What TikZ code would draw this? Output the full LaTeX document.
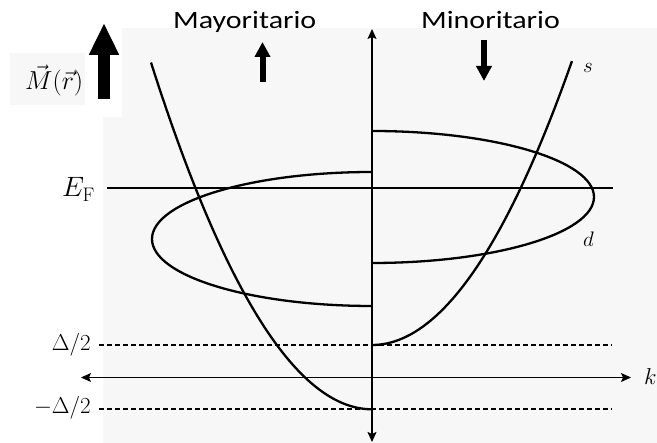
\RequirePackage{fix-cm}
\documentclass[tikz,border=0pt]{standalone}
\usepackage{fontspec}
\usepackage{amsmath,amssymb}
\usepackage{xcolor}
\usepackage{tikz}
\usetikzlibrary{arrows.meta}
\newfontfamily\spinfont[FakeStretch=1.2]{Carlito}
\definecolor{panel}{HTML}{F7F7F7}
\tikzset{
  band/.style={line width=2.3pt},
  axis/.style={line width=1.3pt,{Stealth[length=10pt,width=9pt,inset=2pt]}-{Stealth[length=10pt,width=9pt,inset=2pt]}},
  level/.style={line width=2pt,dash pattern=on 5pt off 3pt},
  lbl/.style={inner sep=0pt,font=\fontsize{23}{26}\selectfont}
}

\begin{document}
\begin{tikzpicture}[x=1pt,y=1pt]
  \def\xo{372}
  \def\ef{255.3}
  \def\dup{98}
  \def\ddn{33.7}
  \useasboundingbox (0,0) rectangle (657,443);
  \fill[panel] (103,0) rectangle (657,415);
  \fill[white] (103,326) rectangle (122,415);
  \fill[panel] (10,338) rectangle (85,390);

  \coordinate (ef0) at (107,\ef);   \coordinate (ef1) at (613,\ef);
  \coordinate (up0) at (99,\dup);   \coordinate (up1) at (612,\dup);
  \coordinate (dn0) at (99,\ddn);   \coordinate (dn1) at (612,\ddn);
  \coordinate (kl) at (81,65.5);    \coordinate (kr) at (631,65.5);
  \coordinate (eb) at (\xo,1);      \coordinate (et) at (\xo,414);

  \node[lbl,font=\fontsize{28}{30}\selectfont,anchor=base east] (EF) at (95,246) {$E_{\mathrm{F}}$};
  \node[lbl,anchor=base east] (Dup) at (91,92.3) {$\Delta/2$};
  \node[lbl,anchor=base east] (Ddn) at (91,29) {$-\Delta/2$};
  \node[lbl,anchor=base west] (k) at (644,58) {$k$};
  \node[lbl,font=\fontsize{21}{24}\selectfont,anchor=base west] (s) at (583,370) {$s$};
  \node[lbl,font=\fontsize{21}{24}\selectfont,anchor=base west] (d) at (583,196) {$d$};
  \node[lbl,font=\fontsize{26}{28}\selectfont,anchor=base west] (M) at (25,353) {$\vec{M}(\vec{r})$};
  \node[lbl,font=\spinfont\fontsize{25}{28}\selectfont,anchor=base west] (maj) at (173,414) {Mayoritario};
  \node[lbl,font=\spinfont\fontsize{25}{28}\selectfont,anchor=base west] (min) at (421,414) {Minoritario};

  \draw[band] (ef0) -- (ef1);
  \draw[level] (up0) -- (up1);
  \draw[level] (dn0) -- (dn1);
  \draw[axis] (kl) -- (kr);
  \draw[axis] (eb) -- (et);

  \draw[band] plot[domain=-2.21:0,samples=60] ({\xo+100*\x},{\ddn+71*\x*\x});
  \draw[band] plot[domain=0:2.0,samples=60] ({\xo+100*\x},{\dup+71*\x*\x});
  \draw[band] (\xo,271) arc[start angle=90,end angle=270,x radius=220,y radius=67];
  \draw[band] (\xo,312) arc[start angle=90,end angle=-90,x radius=222,y radius=66];

  \coordinate (bigA) at (104,344);  \coordinate (bigB) at (104,420);
  \coordinate (majA) at (262.5,361); \coordinate (majB) at (262.5,401);
  \coordinate (minA) at (484,403);  \coordinate (minB) at (484,362);
  \draw[line width=12pt,-{Triangle[width=28pt,length=32pt]}] (bigA) -- (bigB);
  \draw[line width=6pt,-{Triangle[width=15pt,length=15pt]}] (majA) -- (majB);
  \draw[line width=6pt,-{Triangle[width=15pt,length=15pt]}] (minA) -- (minB);
\end{tikzpicture}
\end{document}
